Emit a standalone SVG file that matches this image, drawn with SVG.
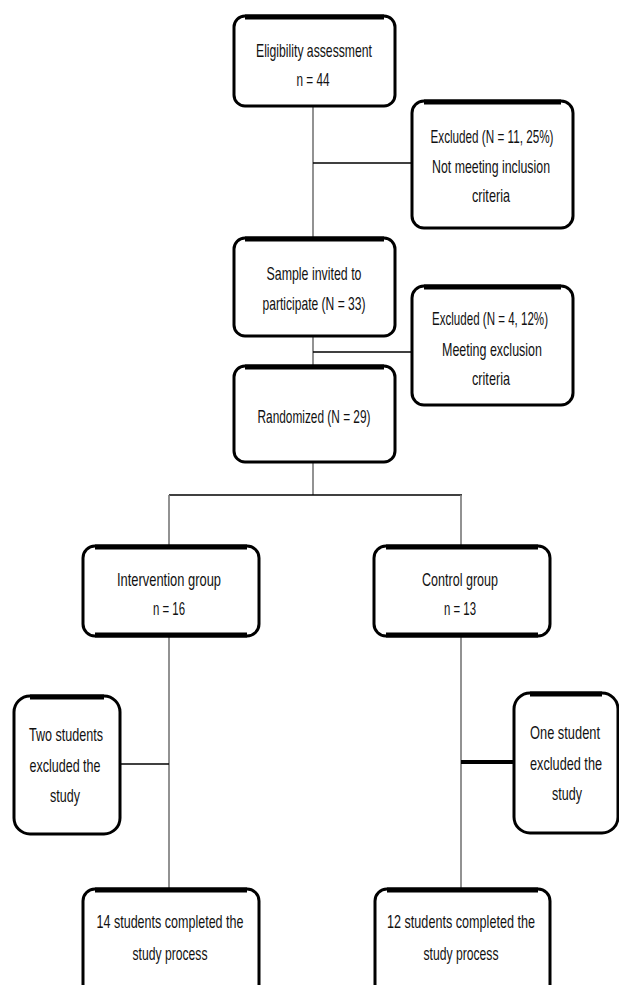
<svg xmlns="http://www.w3.org/2000/svg" width="619" height="985" viewBox="0 0 619 985">
<style>
.box{fill:#fff;stroke:#000;stroke-width:3}
.cap{stroke:#000;stroke-width:5;fill:none}
.v{stroke:#777;stroke-width:1.6;fill:none}
.h{stroke:#000;stroke-width:1.6;fill:none}
.hb{stroke:#000;stroke-width:4;fill:none}
text{font-family:"Liberation Sans Narrow","Liberation Sans",Arial,sans-serif;font-size:19px;fill:#111;text-anchor:middle}
</style>
<rect width="619" height="985" fill="#fff"/>
<g id="connectors">
<line class="v" x1="313" y1="106" x2="313" y2="237"/>
<line class="v" x1="313" y1="336" x2="313" y2="365"/>
<line class="v" x1="313" y1="462" x2="313" y2="495"/>
<line class="h" x1="313" y1="163" x2="412" y2="163"/>
<line class="h" x1="313" y1="352" x2="412" y2="352"/>
<line class="h" x1="169" y1="495" x2="462" y2="495"/>
<line class="v" x1="169" y1="495" x2="169" y2="545"/>
<line class="v" x1="461" y1="495" x2="461" y2="545"/>
<line class="v" x1="169" y1="636" x2="169" y2="888"/>
<line class="v" x1="461" y1="636" x2="461" y2="888"/>
<line class="h" x1="120" y1="764" x2="169" y2="764"/>
<line class="hb" x1="461" y1="762" x2="514" y2="762"/>
</g>
<g id="eligibility">
<rect class="box" x="234" y="16" width="161" height="90" rx="11"/>
<line class="cap" x1="245" y1="17" x2="384" y2="17"/>
<text x="314" y="57" textLength="116" lengthAdjust="spacingAndGlyphs">Eligibility assessment</text>
<text x="313" y="86" textLength="33" lengthAdjust="spacingAndGlyphs">n = 44</text>
</g>
<g id="excluded1">
<rect class="box" x="412" y="101" width="161" height="127" rx="12"/>
<line class="cap" x1="424" y1="102" x2="561" y2="102"/>
<text x="492" y="143" textLength="123" lengthAdjust="spacingAndGlyphs">Excluded (N = 11, 25%)</text>
<text x="491" y="173" textLength="118" lengthAdjust="spacingAndGlyphs">Not meeting inclusion</text>
<text x="491" y="202" textLength="38" lengthAdjust="spacingAndGlyphs">criteria</text>
</g>
<g id="sample">
<rect class="box" x="234" y="238" width="161" height="98" rx="11"/>
<line class="cap" x1="245" y1="239" x2="384" y2="239"/>
<text x="314" y="280" textLength="95" lengthAdjust="spacingAndGlyphs">Sample invited to</text>
<text x="314" y="310" textLength="103" lengthAdjust="spacingAndGlyphs">participate (N = 33)</text>
</g>
<g id="excluded2">
<rect class="box" x="412" y="286" width="161" height="119" rx="12"/>
<line class="cap" x1="424" y1="287" x2="561" y2="287"/>
<text x="490" y="325" textLength="116" lengthAdjust="spacingAndGlyphs">Excluded (N = 4, 12%)</text>
<text x="492" y="356" textLength="100" lengthAdjust="spacingAndGlyphs">Meeting exclusion</text>
<text x="491" y="385" textLength="38" lengthAdjust="spacingAndGlyphs">criteria</text>
</g>
<g id="randomized">
<rect class="box" x="234" y="366" width="161" height="96" rx="11"/>
<line class="cap" x1="245" y1="367" x2="384" y2="367"/>
<text x="314" y="423" textLength="113" lengthAdjust="spacingAndGlyphs">Randomized (N = 29)</text>
</g>
<g id="intervention">
<rect class="box" x="83" y="546" width="176" height="90" rx="12"/>
<line class="cap" x1="95" y1="547" x2="247" y2="547"/>
<line class="cap" x1="95" y1="635" x2="247" y2="635"/>
<text x="169" y="586" textLength="104" lengthAdjust="spacingAndGlyphs">Intervention group</text>
<text x="169" y="615" textLength="32" lengthAdjust="spacingAndGlyphs">n = 16</text>
</g>
<g id="control">
<rect class="box" x="374" y="546" width="176" height="90" rx="12"/>
<line class="cap" x1="386" y1="547" x2="538" y2="547"/>
<line class="cap" x1="386" y1="635" x2="538" y2="635"/>
<text x="460" y="586" textLength="76" lengthAdjust="spacingAndGlyphs">Control group</text>
<text x="460" y="615" textLength="32" lengthAdjust="spacingAndGlyphs">n = 13</text>
</g>
<g id="excluded-left">
<rect class="box" x="14" y="696" width="106" height="138" rx="16"/>
<line class="cap" x1="30" y1="697" x2="104" y2="697"/>
<text x="66" y="741" textLength="74" lengthAdjust="spacingAndGlyphs">Two students</text>
<text x="65" y="772" textLength="71" lengthAdjust="spacingAndGlyphs">excluded the</text>
<text x="65" y="802" textLength="30" lengthAdjust="spacingAndGlyphs">study</text>
</g>
<g id="excluded-right">
<rect class="box" x="514" y="693" width="104" height="140" rx="16"/>
<line class="cap" x1="530" y1="694" x2="602" y2="694"/>
<text x="565" y="739" textLength="70" lengthAdjust="spacingAndGlyphs">One student</text>
<text x="566" y="770" textLength="72" lengthAdjust="spacingAndGlyphs">excluded the</text>
<text x="567" y="800" textLength="30" lengthAdjust="spacingAndGlyphs">study</text>
</g>
<g id="completed-left">
<rect class="box" x="83" y="889" width="176" height="110" rx="12"/>
<line class="cap" x1="95" y1="890" x2="247" y2="890"/>
<text x="170" y="928" textLength="147" lengthAdjust="spacingAndGlyphs">14 students completed the</text>
<text x="170" y="960" textLength="75" lengthAdjust="spacingAndGlyphs">study process</text>
</g>
<g id="completed-right">
<rect class="box" x="375" y="889" width="175" height="110" rx="12"/>
<line class="cap" x1="387" y1="890" x2="538" y2="890"/>
<text x="461" y="928" textLength="148" lengthAdjust="spacingAndGlyphs">12 students completed the</text>
<text x="461" y="960" textLength="75" lengthAdjust="spacingAndGlyphs">study process</text>
</g>
</svg>
